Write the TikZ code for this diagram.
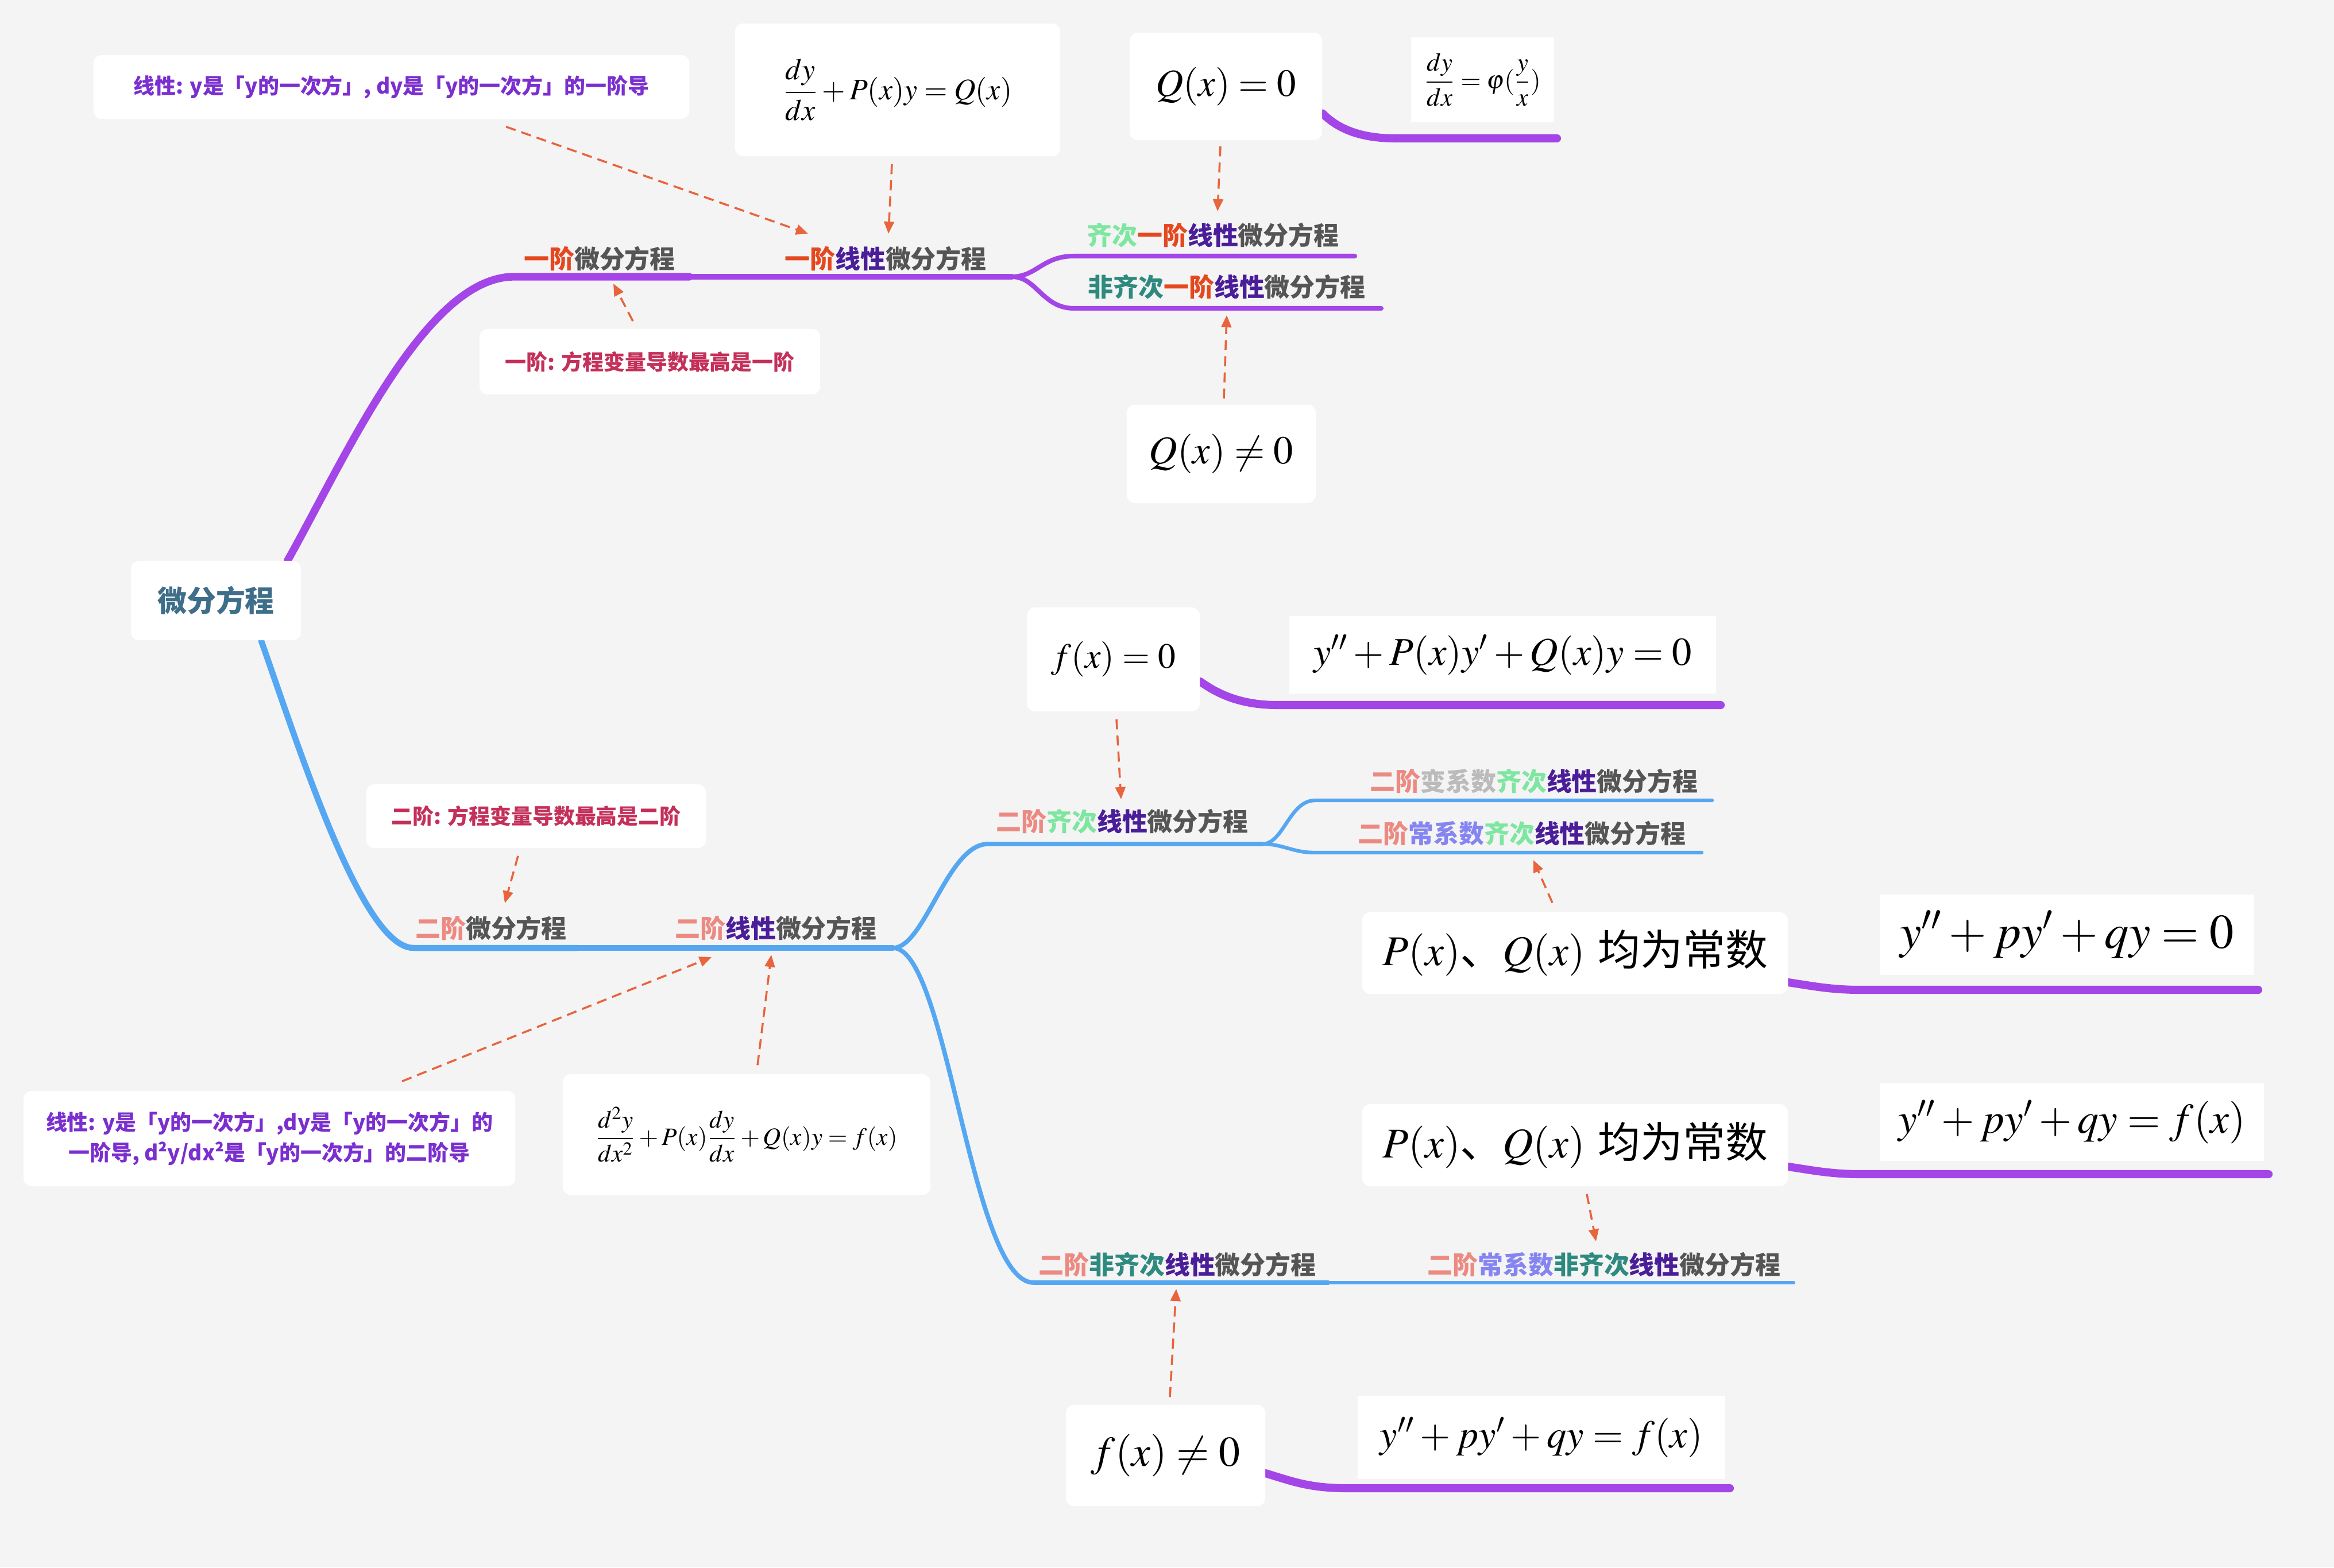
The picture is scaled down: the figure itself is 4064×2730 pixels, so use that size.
\documentclass[tikz,border=0pt]{standalone}
\usepackage{mathptmx}
\usepackage[no-math]{fontspec}
\newfontfamily\cjk{Noto Sans CJK SC}
\usetikzlibrary{arrows.meta}
\definecolor{bgc}{HTML}{F4F4F4}
\definecolor{purp}{HTML}{A445E8}
\definecolor{blu}{HTML}{56A7F2}
\definecolor{arrc}{HTML}{E8643C}
\definecolor{gry}{HTML}{555555}
\definecolor{orc}{HTML}{E5481F}
\definecolor{linc}{HTML}{4B1E99}
\definecolor{mintc}{HTML}{7DE6A0}
\definecolor{tealc}{HTML}{2E8A7E}
\definecolor{salc}{HTML}{EC8A82}
\definecolor{lgc}{HTML}{BBBBBB}
\definecolor{peric}{HTML}{8585F2}
\definecolor{rootc}{HTML}{3E6E8A}
\definecolor{notep}{HTML}{7B2FCF}
\definecolor{notec}{HTML}{C4305A}
\newcommand\cOr[1]{\textcolor{orc}{#1}}
\newcommand\cLi[1]{\textcolor{linc}{#1}}
\newcommand\cMi[1]{\textcolor{mintc}{#1}}
\newcommand\cTe[1]{\textcolor{tealc}{#1}}
\newcommand\cSa[1]{\textcolor{salc}{#1}}
\newcommand\cLg[1]{\textcolor{lgc}{#1}}
\newcommand\cPe[1]{\textcolor{peric}{#1}}
\pgfdeclarelayer{bgl}
\pgfdeclarelayer{lines}
\pgfsetlayers{bgl,lines,main}
\begin{document}
\begin{tikzpicture}[x=0.01cm,y=-0.01cm,
  box/.style={fill=white, rounded corners=4pt, inner sep=0pt, align=center},
  sqbox/.style={fill=white, inner sep=0pt, align=center},
  lbl/.style={font=\cjk\bfseries\fontsize{12.5}{15}\selectfont, text=gry, inner sep=0pt},
  notefont/.style={font=\cjk\bfseries\fontsize{10.5}{15}\selectfont},
  pw1/.style={draw=purp, line width=3.8pt, line cap=round},
  pw2/.style={draw=purp, line width=2.8pt, line cap=round},
  pw3/.style={draw=purp, line width=2.3pt, line cap=round},
  pf/.style={draw=purp, line width=4pt, line cap=round},
  bw1/.style={draw=blu, line width=3pt, line cap=round},
  bw2/.style={draw=blu, line width=2.6pt, line cap=round},
  bw3/.style={draw=blu, line width=2.2pt, line cap=round},
  bw4/.style={draw=blu, line width=1.8pt, line cap=round},
  arr/.style={draw=arrc, line width=1pt, dash pattern=on 5pt off 3pt, -{Triangle[length=6pt,width=5pt,fill=arrc]}}
]
\begin{pgfonlayer}{bgl}
\fill[bgc] (0,0) rectangle (4064,2730);
\end{pgfonlayer}
\useasboundingbox (0,0) rectangle (4064,2730);

% ---------- root ----------
\node[box, minimum width=2.96cm, minimum height=1.38cm, font=\cjk\bfseries\fontsize{14.5}{17}\selectfont, text=rootc] (root) at (376,1046) {微分方程};

% ---------- branch labels ----------
\node[lbl] (l1a) at (1044,451) {\cOr{一阶}微分方程};
\node[lbl] (l1b) at (1542,451) {\cOr{一阶}\cLi{线性}微分方程};
\node[lbl] (l1c) at (2112,410) {\cMi{齐次}\cOr{一阶}\cLi{线性}微分方程};
\node[lbl] (l1d) at (2136,500) {\cTe{非齐次}\cOr{一阶}\cLi{线性}微分方程};
\node[lbl] (l2a) at (855,1617) {\cSa{二阶}微分方程};
\node[lbl] (l2b) at (1351,1617) {\cSa{二阶}\cLi{线性}微分方程};
\node[lbl] (l2c) at (1954,1431) {\cSa{二阶}\cMi{齐次}\cLi{线性}微分方程};
\node[lbl] (l2d) at (2671,1361) {\cSa{二阶}\cLg{变系数}\cMi{齐次}\cLi{线性}微分方程};
\node[lbl] (l2e) at (2650,1452) {\cSa{二阶}\cPe{常系数}\cMi{齐次}\cLi{线性}微分方程};
\node[lbl] (l2f) at (2050,2203) {\cSa{二阶}\cTe{非齐次}\cLi{线性}微分方程};
\node[lbl] (l2g) at (2793,2203) {\cSa{二阶}\cPe{常系数}\cTe{非齐次}\cLi{线性}微分方程};

% ---------- notes ----------
\node[box, notefont, text=notep, minimum width=10.37cm, minimum height=1.11cm] (note1) at (681.5,151.5) {线性: y是「y的一次方」, dy是「y的一次方」的一阶导};
\node[box, notefont, text=notec, minimum width=5.93cm, minimum height=1.14cm] (note2) at (1131.5,630) {一阶: 方程变量导数最高是一阶};
\node[box, notefont, text=notec, minimum width=5.91cm, minimum height=1.11cm] (note3) at (933.5,1421.5) {二阶: 方程变量导数最高是二阶};
\node[box, notefont, text=notep, minimum width=8.56cm, minimum height=1.66cm] (note4) at (469,1983) {线性: y是「y的一次方」,dy是「y的一次方」的\\一阶导, d²y/dx²是「y的一次方」的二阶导};

% ---------- formula boxes ----------
\node[box, minimum width=5.66cm, minimum height=2.31cm, font=\fontsize{14.8}{18}\selectfont] (form1) at (1563,156.5) {$\displaystyle\frac{dy}{dx}+P(x)y=Q(x)$};
\node[box, minimum width=3.35cm, minimum height=1.87cm, font=\fontsize{19}{23}\selectfont] (qzero) at (2134.5,150.5) {$Q(x)=0$};
\node[sqbox, minimum width=2.49cm, minimum height=1.48cm, font=\fontsize{12.8}{15}\selectfont] (phi) at (2581.5,139) {$\displaystyle\frac{dy}{dx}=\varphi(\frac{y}{x})$};
\node[box, minimum width=3.29cm, minimum height=1.71cm, font=\fontsize{19.5}{23}\selectfont] (qnz) at (2126.5,790.5) {$Q(x)\neq0$};
\node[box, minimum width=3.01cm, minimum height=1.81cm, font=\fontsize{17.5}{21}\selectfont] (fzero) at (1938.5,1148.5) {$f(x)=0$};
\node[sqbox, minimum width=7.43cm, minimum height=1.35cm, font=\fontsize{19.5}{23}\selectfont] (ode2) at (2616.5,1140.5) {$y''+P(x)y'+Q(x)y=0$};
\node[box, minimum width=6.40cm, minimum height=2.10cm, font=\fontsize{12.3}{15}\selectfont] (form2) at (1300,1976) {$\displaystyle\frac{d^2y}{dx^2}+P(x)\frac{dy}{dx}+Q(x)y=f(x)$};
\node[box, minimum width=7.41cm, minimum height=1.42cm, font=\fontsize{21}{25}\selectfont] (pq1) at (2742.5,1660) {$P(x)${\cjk 、}$Q(x)$ {\cjk 均为常数}};
\node[sqbox, minimum width=6.50cm, minimum height=1.40cm, font=\fontsize{24}{28}\selectfont] (cc0) at (3599,1628) {$y''+py'+qy=0$};
\node[box, minimum width=7.41cm, minimum height=1.43cm, font=\fontsize{21}{25}\selectfont] (pq2) at (2742.5,1994.5) {$P(x)${\cjk 、}$Q(x)$ {\cjk 均为常数}};
\node[sqbox, minimum width=6.68cm, minimum height=1.35cm, font=\fontsize{21}{25}\selectfont] (ccf) at (3608,1954.5) {$y''+py'+qy=f(x)$};
\node[box, minimum width=3.47cm, minimum height=1.76cm, font=\fontsize{21}{25}\selectfont] (fnz) at (2029.5,2535) {$f(x)\neq0$};
\node[sqbox, minimum width=6.40cm, minimum height=1.45cm, font=\fontsize{19.5}{23}\selectfont] (ccf2) at (2684,2503.5) {$y''+py'+qy=f(x)$};

% ---------- branch coordinates ----------
\coordinate (p1) at (895,482);
\coordinate (p2) at (1200,482);
\coordinate (p3) at (1762,482);
\coordinate (p4) at (1870,446);
\coordinate (p5) at (2359,446);
\coordinate (p6) at (1870,537);
\coordinate (p7) at (2405,537);
\coordinate (b1) at (720,1651);
\coordinate (b2) at (1005,1651);
\coordinate (b3) at (1555,1651);
\coordinate (b4) at (1720,1470);
\coordinate (b5) at (2198,1470);
\coordinate (b6) at (2290,1394);
\coordinate (b7) at (2981,1394);
\coordinate (b8) at (2290,1485);
\coordinate (b9) at (2963,1485);
\coordinate (b10) at (1800,2234);
\coordinate (b11) at (2313,2234);
\coordinate (b12) at (3123,2234);
\coordinate (q1) at (2430,241);
\coordinate (q2) at (2711,241);
\coordinate (f1) at (2225,1228);
\coordinate (f2) at (2996,1228);
\coordinate (c1) at (3240,1724);
\coordinate (c2) at (3932,1724);
\coordinate (d1) at (3240,2045);
\coordinate (d2) at (3950,2045);
\coordinate (e1) at (2346,2592);
\coordinate (e2) at (3012,2592);

\begin{pgfonlayer}{lines}
% purple (first order)
\draw[pw1] ([xshift=-0.24cm]root.north east) .. controls (600,800) and (740,482) .. (p1) -- (p2);
\draw[pw2] (p2) -- (p3);
\draw[pw3] (p3) .. controls (1805,482) and (1815,446) .. (p4) -- (p5);
\draw[pw3] (p3) .. controls (1805,482) and (1815,537) .. (p6) -- (p7);
% blue (second order)
\draw[bw1] ([xshift=-0.7cm]root.south east) .. controls (520,1300) and (630,1651) .. (b1) -- (b2);
\draw[bw2] (b2) -- (b3);
\draw[bw3] (b3) .. controls (1610,1651) and (1650,1470) .. (b4) -- (b5);
\draw[bw3] (b3) .. controls (1650,1651) and (1690,2234) .. (b10) -- (b11);
\draw[bw4] (b11) -- (b12);
\draw[bw4] (b5) .. controls (2235,1470) and (2245,1394) .. (b6) -- (b7);
\draw[bw4] (b5) .. controls (2235,1470) and (2250,1485) .. (b8) -- (b9);
% purple formula links
\draw[pf] ([yshift=-0.47cm]qzero.east) .. controls (2330,225) and (2370,241) .. (q1) -- (q2);
\draw[pf] ([yshift=-0.385cm]fzero.east) .. controls (2125,1212) and (2165,1228) .. (f1) -- (f2);
\draw[pf] ([yshift=-0.51cm]pq1.east) .. controls (3160,1718) and (3190,1724) .. (c1) -- (c2);
\draw[pf] ([yshift=-0.375cm]pq2.east) .. controls (3160,2039) and (3190,2045) .. (d1) -- (d2);
\draw[pf] ([yshift=-0.31cm]fnz.east) .. controls (2250,2580) and (2280,2592) .. (e1) -- (e2);
\end{pgfonlayer}

% ---------- dashed arrows ----------
\coordinate (t1) at (1407,407);
\coordinate (t2) at (1547,407);
\coordinate (t3) at (2120,368);
\coordinate (t4) at (2136,549);
\coordinate (t5) at (1068,494);
\coordinate (u1) at (1952,1392);
\coordinate (u2) at (879,1573);
\coordinate (u3) at (1239,1667);
\coordinate (u4) at (1343,1663);
\coordinate (u5) at (2670,1498);
\coordinate (u6) at (2779,2162);
\coordinate (u7) at (2048,2245);
\draw[arr] ([xshift=1.995cm,yshift=-0.13cm]note1.south) -- (t1);
\draw[arr] ([xshift=-0.1cm,yshift=-0.13cm]form1.south) -- (t2);
\draw[arr] ([xshift=-0.095cm,yshift=-0.1cm]qzero.south) -- (t3);
\draw[arr] ([xshift=0.045cm,yshift=0.1cm]qnz.north) -- (t4);
\draw[arr] ([xshift=-0.295cm,yshift=0.13cm]note2.north) -- (t5);
\draw[arr] ([xshift=0.055cm,yshift=-0.13cm]fzero.south) -- (u1);
\draw[arr] ([xshift=-0.315cm,yshift=-0.13cm]note3.south) -- (u2);
\draw[arr] ([xshift=2.31cm,yshift=0.16cm]note4.north) -- (u3);
\draw[arr] ([xshift=0.19cm,yshift=0.15cm]form2.north) -- (u4);
\draw[arr] ([xshift=-0.395cm,yshift=0.16cm]pq1.north) -- (u5);
\draw[arr] ([xshift=0.205cm,yshift=-0.13cm]pq2.south) -- (u6);
\draw[arr] ([xshift=0.075cm,yshift=0.13cm]fnz.north) -- (u7);
\end{tikzpicture}
\end{document}
